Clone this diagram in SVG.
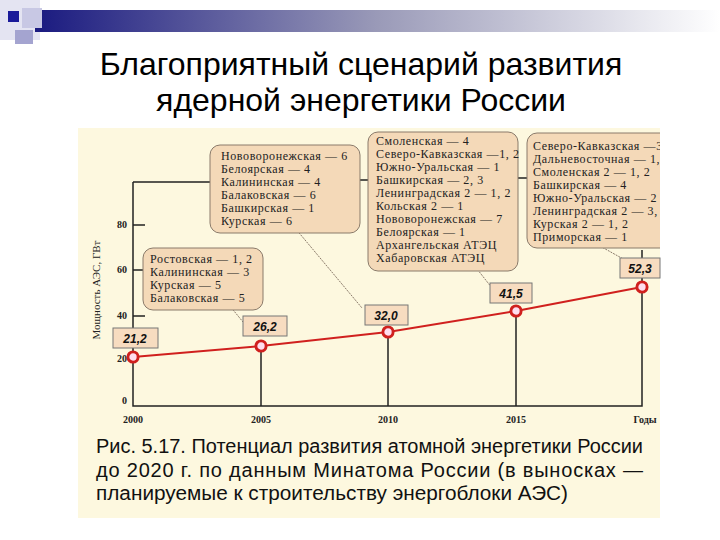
<svg xmlns="http://www.w3.org/2000/svg" width="720" height="540" viewBox="0 0 720 540">
<defs>
<linearGradient id="bar" x1="0" x2="1" y1="0" y2="0"><stop offset="0" stop-color="#1a1a80"/><stop offset="0.5" stop-color="#9a9ab8"/><stop offset="1" stop-color="#ffffff"/></linearGradient>
<marker id="pt" viewBox="0 0 10 10" refX="5" refY="5" markerWidth="8" markerHeight="8"><circle cx="5" cy="5" r="3.2" fill="#fde" stroke="#d0201e" stroke-width="1.8"/></marker>
</defs>
<style>
.t{font-family:"Liberation Sans",Arial,sans-serif}
.s{font-family:"Liberation Serif","Times New Roman",serif;font-size:12px;letter-spacing:0.6px;fill:#222}
.ax{font-family:"Liberation Serif",serif;font-size:10px;fill:#222;font-weight:bold}
.co{fill:#f4d9b8;stroke:#8a7a6a;stroke-width:1}
.vb{fill:#f7dcc0;stroke:#777;stroke-width:1}
.vt{font-family:"Liberation Sans",Arial,sans-serif;font-size:12px;font-weight:bold;font-style:italic;fill:#111}
.ln{stroke:#222;stroke-width:1.5;fill:none}
.pl{stroke:#8a7a6a;stroke-dasharray:2 1;fill:none}
</style>
<rect width="720" height="540" fill="#fff"/>
<g id="header">
<rect x="0" y="0" width="40" height="40" fill="#e4e4f2"/>
<rect x="35" y="10" width="685" height="22" fill="url(#bar)"/>
<rect x="22" y="8" width="20" height="20" fill="#c8c8e4"/>
<rect x="8" y="11" width="11" height="11" fill="#1a1a9a"/>
<rect x="15" y="30" width="18" height="14" fill="#a4a4d0"/>
</g>
<text class="t" x="361" y="75" font-size="32" text-anchor="middle" fill="#000">Благоприятный сценарий развития</text>
<text class="t" x="361" y="111" font-size="32" text-anchor="middle" fill="#000">ядерной энергетики России</text>
<rect x="78" y="128" width="582" height="390" fill="#fdf8df"/>
<g id="axes">
<path class="ln" d="M133 182V406H642V287M133 182H212M358 180H370M517 178H529"/>
<path class="ln" d="M133 225H145M133 270H145M133 316H145"/>
<path class="ln" d="M261 346V406M388 332V406M516 311V406M642 287V278M642 258V250"/>
<text class="ax" x="127" y="228" text-anchor="end">80</text>
<text class="ax" x="127" y="273" text-anchor="end">60</text>
<text class="ax" x="127" y="319" text-anchor="end">40</text>
<text class="ax" x="127" y="362" text-anchor="end">20</text>
<text class="ax" x="127" y="404" text-anchor="end">0</text>
<text class="ax" x="133" y="423" text-anchor="middle">2000</text>
<text class="ax" x="261" y="423" text-anchor="middle">2005</text>
<text class="ax" x="388" y="423" text-anchor="middle">2010</text>
<text class="ax" x="516" y="423" text-anchor="middle">2015</text>
<text class="ax" x="645" y="423" text-anchor="middle">Годы</text>
<text class="s" transform="translate(100,290) rotate(-90)" text-anchor="middle" style="font-size:11px;letter-spacing:0">Мощность АЭС, ГВт</text>
</g>
<g id="connectors">
<polyline points="133,357 261,346 388,332 516,311 642,287" fill="none" stroke="#d0201e" stroke-width="2" marker-start="url(#pt)" marker-mid="url(#pt)" marker-end="url(#pt)"/>
<path class="pl" d="M225 300L243 322M295 228L362 308M470 260L492 288M600 246L625 260"/>
</g>
<g id="c1"><rect class="co" x="143" y="248" width="120" height="62" rx="10"/>
<text class="s" x="150" y="263">Ростовская — 1, 2</text><text class="s" x="150" y="276">Калининская — 3</text><text class="s" x="150" y="289">Курская — 5</text><text class="s" x="150" y="302">Балаковская — 5</text></g>
<g id="c2"><rect class="co" x="210" y="145" width="150" height="88" rx="10"/>
<text class="s" x="221" y="160">Нововоронежская — 6</text><text class="s" x="221" y="173">Белоярская — 4</text><text class="s" x="221" y="186">Калининская — 4</text><text class="s" x="221" y="199">Балаковская — 6</text><text class="s" x="221" y="212">Башкирская — 1</text><text class="s" x="221" y="225">Курская — 6</text></g>
<g id="c3"><rect class="co" x="368" y="132" width="150" height="139" rx="10"/>
<text class="s" x="376" y="145">Смоленская — 4</text><text class="s" x="376" y="158">Северо-Кавказская —1, 2</text><text class="s" x="376" y="171">Южно-Уральская — 1</text><text class="s" x="376" y="184">Башкирская — 2, 3</text><text class="s" x="376" y="197">Ленинградская 2 — 1, 2</text><text class="s" x="376" y="210">Кольская 2 — 1</text><text class="s" x="376" y="223">Нововоронежская — 7</text><text class="s" x="376" y="236">Белоярская — 1</text><text class="s" x="376" y="249">Архангельская АТЭЦ</text><text class="s" x="376" y="262">Хабаровская АТЭЦ</text></g>
<g id="c4"><rect class="co" x="527" y="133" width="145" height="115" rx="10"/>
<text class="s" x="533" y="150">Северо-Кавказская —3, 4</text><text class="s" x="533" y="163">Дальневосточная — 1, 2</text><text class="s" x="533" y="176">Смоленская 2 — 1, 2</text><text class="s" x="533" y="189">Башкирская — 4</text><text class="s" x="533" y="202">Южно-Уральская — 2</text><text class="s" x="533" y="215">Ленинградская 2 — 3, 4</text><text class="s" x="533" y="228">Курская 2 — 1, 2</text><text class="s" x="533" y="241">Приморская — 1</text></g>
<rect x="660" y="128" width="60" height="150" fill="#fff"/>
<g id="v1"><rect class="vb" x="113" y="328" width="45" height="20"/><text class="vt" x="135" y="343" text-anchor="middle">21,2</text></g>
<g id="v2"><rect class="vb" x="243" y="316" width="44" height="20"/><text class="vt" x="265" y="331" text-anchor="middle">26,2</text></g>
<g id="v3"><rect class="vb" x="365" y="305" width="43" height="20"/><text class="vt" x="386" y="320" text-anchor="middle">32,0</text></g>
<g id="v4"><rect class="vb" x="490" y="283" width="42" height="20"/><text class="vt" x="511" y="298" text-anchor="middle">41,5</text></g>
<g id="v5"><rect class="vb" x="620" y="258" width="40" height="20"/><text class="vt" x="640" y="273" text-anchor="middle">52,3</text></g>
<g id="caption" class="t" font-size="20" fill="#111">
<text x="96" y="453" textLength="547" lengthAdjust="spacingAndGlyphs">Рис. 5.17. Потенциал развития атомной энергетики России</text>
<text x="96" y="477" textLength="547" lengthAdjust="spacing">до 2020 г. по данным Минатома России (в выносках —</text>
<text x="96" y="500" textLength="472" lengthAdjust="spacingAndGlyphs">планируемые к строительству энергоблоки АЭС)</text>
</g>
</svg>
